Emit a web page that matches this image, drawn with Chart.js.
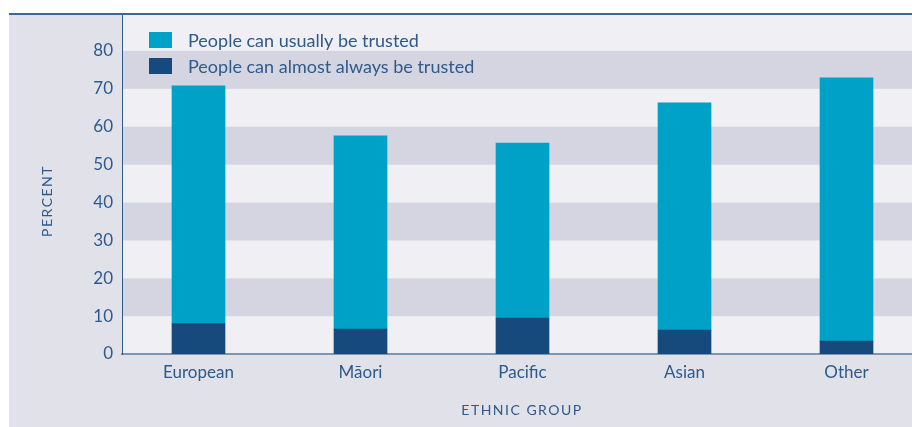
<!DOCTYPE html>
<html>
<head>
<meta charset="utf-8">
<script src="https://cdn.jsdelivr.net/npm/chart.js@4/dist/chart.umd.min.js"></script>
<style>
  html, body { margin: 0; padding: 0; background: #ffffff; width: 912px; height: 427px; overflow: hidden; }
  #panel { position: absolute; left: 9px; top: 13px; width: 903px; height: 414px; background: #e1e1ea; }
  #topline { position: absolute; left: 9px; top: 13px; width: 903px; height: 2px; background: #3b6894; z-index: 2; }
  #c { position: absolute; left: 0; top: 0; }
</style>
</head>
<body>
<div id="panel"><canvas id="c" width="903" height="414"></canvas></div>
<div id="topline"></div>
<script>
const categories = ['European', 'Māori', 'Pacific', 'Asian', 'Other'];
const almostAlways = [8.0, 6.6, 9.5, 6.3, 3.4];
const usually = [62.8, 51.0, 46.2, 60.0, 69.5];
const yTicks = [0, 10, 20, 30, 40, 50, 60, 70, 80];
const seriesLabels = ['People can almost always be trusted', 'People can usually be trusted'];
const xTitle = 'ETHNIC GROUP';
const yTitle = 'PERCENT';

const TEXT = '#2d5a8b';
const FONT = 'Lato, "Open Sans", sans-serif';

const bandsPlugin = {
  id: 'bands',
  beforeDraw(chart) {
    const {ctx, chartArea: a, scales: {y}} = chart;
    ctx.save();
    for (let v = 0; v < 90; v += 10) {
      const top = y.getPixelForValue(v + 10);
      const bot = y.getPixelForValue(v);
      ctx.fillStyle = ((v / 10) % 2 === 1) ? '#d5d5e1' : '#efeff4';
      ctx.fillRect(a.left, top, a.right - a.left, bot - top);
    }
    ctx.restore();
  }
};

const legendTitlesPlugin = {
  id: 'legendTitles',
  afterDraw(chart) {
    const {ctx} = chart;
    ctx.save();
    const order = [1, 0];
    ctx.font = '18px ' + FONT;
    ctx.textBaseline = 'middle';
    ctx.textAlign = 'left';
    order.forEach((di, row) => {
      const ds = chart.data.datasets[di];
      const cy = 27 + row * 26;
      ctx.fillStyle = ds.backgroundColor;
      ctx.fillRect(140, cy - 8, 23, 16);
      ctx.fillStyle = TEXT;
      ctx.fillText(ds.label, 179, cy + 1);
    });
    ctx.font = '14px ' + FONT;
    ctx.letterSpacing = '1.5px';
    ctx.fillStyle = TEXT;
    ctx.textAlign = 'center';
    ctx.fillText(xTitle, 513, 397);
    ctx.translate(38, 188);
    ctx.rotate(-Math.PI / 2);
    ctx.fillText(yTitle, 0, 0);
    ctx.restore();
  }
};

new Chart(document.getElementById('c'), {
  type: 'bar',
  data: {
    datasets: [
      { label: seriesLabels[0], data: almostAlways.map((v, i) => ({x: i, y: v})), backgroundColor: '#164a7c', barThickness: 53 },
      { label: seriesLabels[1], data: usually.map((v, i) => ({x: i, y: v})), backgroundColor: '#00a1c6', barThickness: 53 }
    ]
  },
  options: {
    responsive: false,
    animation: false,
    layout: { padding: 0 },
    plugins: { legend: { display: false }, tooltip: { enabled: false }, title: { display: false } },
    scales: {
      x: {
        type: 'linear',
        stacked: true,
        offset: false,
        min: -0.4722,
        max: 4.4043,
        grid: { display: false, drawTicks: false, offset: false },
        border: { display: true, color: '#7f96b3', width: 2 },
        ticks: {
          stepSize: 1,
          includeBounds: false,
          autoSkip: false,
          maxRotation: 0,
          padding: 8,
          color: TEXT,
          font: { family: FONT, size: 17 },
          callback: (v) => (Number.isInteger(v) && categories[v] !== undefined) ? categories[v] : ''
        },
        afterFit: (s) => { s.height = 73; s.paddingLeft = 0; s.paddingRight = 0; }
      },
      y: {
        stacked: true,
        min: 0,
        max: 90,
        grid: { display: false, drawTicks: false },
        border: { display: true, color: '#2d5b8c', width: 1 },
        ticks: {
          stepSize: 10,
          padding: 9,
          color: TEXT,
          font: { family: FONT, size: 17 },
          callback: (v) => yTicks.includes(v) ? String(v) : ''
        },
        afterFit: (s) => { s.width = 113; s.paddingTop = 0; s.paddingBottom = 0; }
      }
    }
  },
  plugins: [bandsPlugin, legendTitlesPlugin]
});
</script>
</body>
</html>
